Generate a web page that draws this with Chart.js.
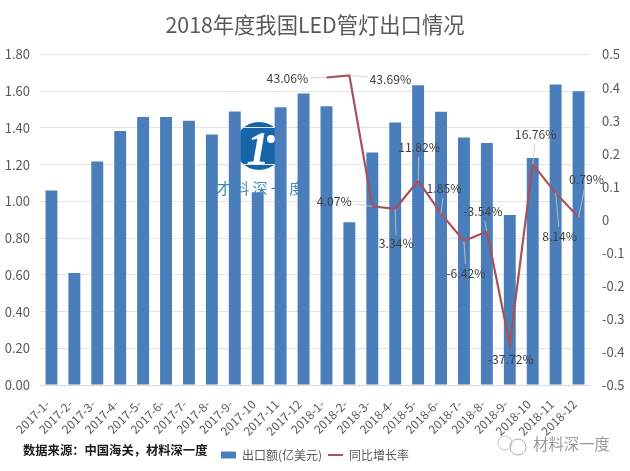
<!DOCTYPE html>
<html>
<head>
<meta charset="utf-8">
<script src="https://cdn.jsdelivr.net/npm/chart.js@4/dist/chart.umd.min.js"></script>
<style>
  html, body { margin: 0; padding: 0; background: #fff; }
  #wrap { position: relative; width: 630px; height: 471px; overflow: hidden; }
  canvas { position: absolute; left: 0; top: 0; }
  .note { position: absolute; white-space: nowrap; font-family: "Noto Sans CJK SC", sans-serif; }
  #source { left: 23px; top: 441px; font-size: 12.3px; font-weight: 700; color: #1a1a1a; }
  #mark { left: 533px; top: 432px; font-size: 15.4px; color: #9a9a9a; }
</style>
</head>
<body>
<div id="wrap">
  <canvas id="chart" width="630" height="471"></canvas>
  <div id="source" class="note">数据来源：中国海关，材料深一度</div>
  <div id="mark" class="note">材料深一度</div>
</div>
<script>
const FONT = '"Noto Sans CJK SC", "Noto Sans", sans-serif';
const GREY = '#595959';

const months = ['2017-1-','2017-2-','2017-3-','2017-4-','2017-5-','2017-6-','2017-7-','2017-8-','2017-9-','2017-10','2017-11','2017-12',
  '2018-1-','2018-2-','2018-3-','2018-4-','2018-5-','2018-6-','2018-7-','2018-8-','2018-9-','2018-10','2018-11','2018-12'];
const exportValue = [1.06,0.61,1.218,1.383,1.46,1.46,1.44,1.365,1.49,1.05,1.513,1.588,
  1.518,0.886,1.267,1.43,1.633,1.489,1.348,1.318,0.926,1.237,1.637,1.60];
const growthRate = [null,null,null,null,null,null,null,null,null,null,null,null,
  0.4306,0.4369,0.0407,0.0334,0.1182,0.0185,-0.0642,-0.0354,-0.3772,0.1676,0.0814,0.0079];

// label centre relative to its point, [dx, dy]
const labelOffsets = [[-39,1],[41,4],[-38,-5],[1,35],[1,-33],[3,-25],[2,32],[-4,-20],[1,15],[3,-30],[4,43],[8,-38]];

function fixWidth(w) { return axis => { axis.width = w; }; }

// blue logo and the wechat bubbles, drawn first so grid and bars sit on top
const logoPlugin = {
  id: 'logo',
  beforeDraw(chart) {
    const c = chart.ctx;
    c.save();
    c.fillStyle = '#1565a8';
    c.beginPath();
    c.arc(259, 146, 24, 0, Math.PI * 2);
    c.fill();
    c.fillStyle = '#fff';
    c.font = 'italic 700 46px "Liberation Serif", serif';
    c.textAlign = 'center';
    c.textBaseline = 'middle';
    c.fillText('1', 258, 152);
    c.beginPath();
    c.arc(271, 139, 4, 0, Math.PI * 2);
    c.fill();
    c.fillStyle = '#3b8ab8';
    c.font = '15px ' + FONT;
    c.fillText('才 料 深 一 度', 260, 188);
    c.strokeStyle = '#c4c4c4';
    c.lineWidth = 1;
    c.beginPath();
    c.arc(505, 443, 7, 0, Math.PI * 2);
    c.stroke();
    c.strokeStyle = '#adadad';
    c.beginPath();
    c.arc(518, 447, 8, 0, Math.PI * 2);
    c.stroke();
    c.restore();
  }
};

// percent labels with thin leader lines
const labelPlugin = {
  id: 'rateLabels',
  afterDatasetsDraw(chart) {
    const c = chart.ctx;
    const meta = chart.getDatasetMeta(1);
    c.save();
    c.font = '12.2px ' + FONT;
    c.textAlign = 'center';
    c.textBaseline = 'middle';
    growthRate.forEach((v, i) => {
      if (v === null) return;
      const pt = meta.data[i];
      const [dx, dy] = labelOffsets[i - 12];
      const x = pt.x + dx, y = pt.y + dy;
      const text = (v * 100).toFixed(2) + '%';
      const hw = c.measureText(text).width / 2 + 2, hh = 9;
      if (i !== 20) {
        // stop the leader at the edge of the text box
        const t = Math.abs(dy) > hh ? Math.min(hh / Math.abs(dy), dx ? hw / Math.abs(dx) : 1) : hw / Math.abs(dx);
        c.strokeStyle = '#c8c8c8';
        c.lineWidth = 0.8;
        c.beginPath();
        c.moveTo(pt.x, pt.y);
        c.lineTo(x - dx * t, y - dy * t);
        c.stroke();
      }
      c.fillStyle = '#404040';
      c.fillText(text, x, y);
    });
    c.restore();
  }
};

new Chart(document.getElementById('chart'), {
  data: {
    labels: months,
    datasets: [
      { type: 'bar', label: '出口额(亿美元)', data: exportValue, yAxisID: 'y', order: 2,
        backgroundColor: '#4a7ebb', categoryPercentage: 1, barPercentage: 0.52 },
      { type: 'line', label: '同比增长率', data: growthRate, yAxisID: 'y1', order: 1,
        borderColor: '#a8515c', backgroundColor: '#a8515c', borderWidth: 2.2, tension: 0, pointRadius: 0 },
    ],
  },
  options: {
    responsive: false,
    animation: false,
    devicePixelRatio: 1,
    layout: { padding: { left: 0, right: 0, top: 10, bottom: 0 } },
    plugins: {
      title: { display: true, text: '2018年度我国LED管灯出口情况', color: GREY,
        font: { family: FONT, size: 21.3, weight: 'normal' }, padding: { top: 2, bottom: 17 } },
      legend: { position: 'bottom',
        labels: { font: { family: FONT, size: 12 }, color: GREY, usePointStyle: true, pointStyleWidth: 15, boxHeight: 7, padding: 6,
          generateLabels(chart) {
            return chart.data.datasets.map((d, i) => {
              const isBar = d.type === 'bar';
              return {
                text: d.label, datasetIndex: i, fontColor: GREY,
                pointStyle: isBar ? 'rect' : 'line',
                fillStyle: isBar ? d.backgroundColor : d.borderColor,
                strokeStyle: isBar ? 'transparent' : d.borderColor,
                lineWidth: isBar ? 0 : 2,
              };
            });
          } } },
      tooltip: { enabled: false },
    },
    scales: {
      x: {
        afterFit(axis) { axis.height = 58; },
        grid: { display: false },
        border: { color: '#d9d9d9' },
        ticks: { color: GREY, font: { family: FONT, size: 12 }, minRotation: 45, maxRotation: 45, autoSkip: false, padding: 4, labelOffset: -4 },
      },
      y: {
        position: 'left', min: 0, max: 1.8, afterFit: fixWidth(40),
        grid: { color: '#e4e4e4', drawTicks: false },
        border: { display: false },
        ticks: { stepSize: 0.2, color: GREY, font: { family: FONT, size: 13 }, padding: 10, callback: v => v.toFixed(2) },
      },
      y1: {
        position: 'right', min: -0.5, max: 0.5, afterFit: fixWidth(40),
        grid: { display: false, drawTicks: false },
        border: { display: false },
        ticks: { stepSize: 0.1, color: GREY, font: { family: FONT, size: 13 }, padding: 12,
          callback: v => String(Math.round(v * 10) / 10) },
      },
    },
  },
  plugins: [logoPlugin, labelPlugin],
});
</script>
</body>
</html>
